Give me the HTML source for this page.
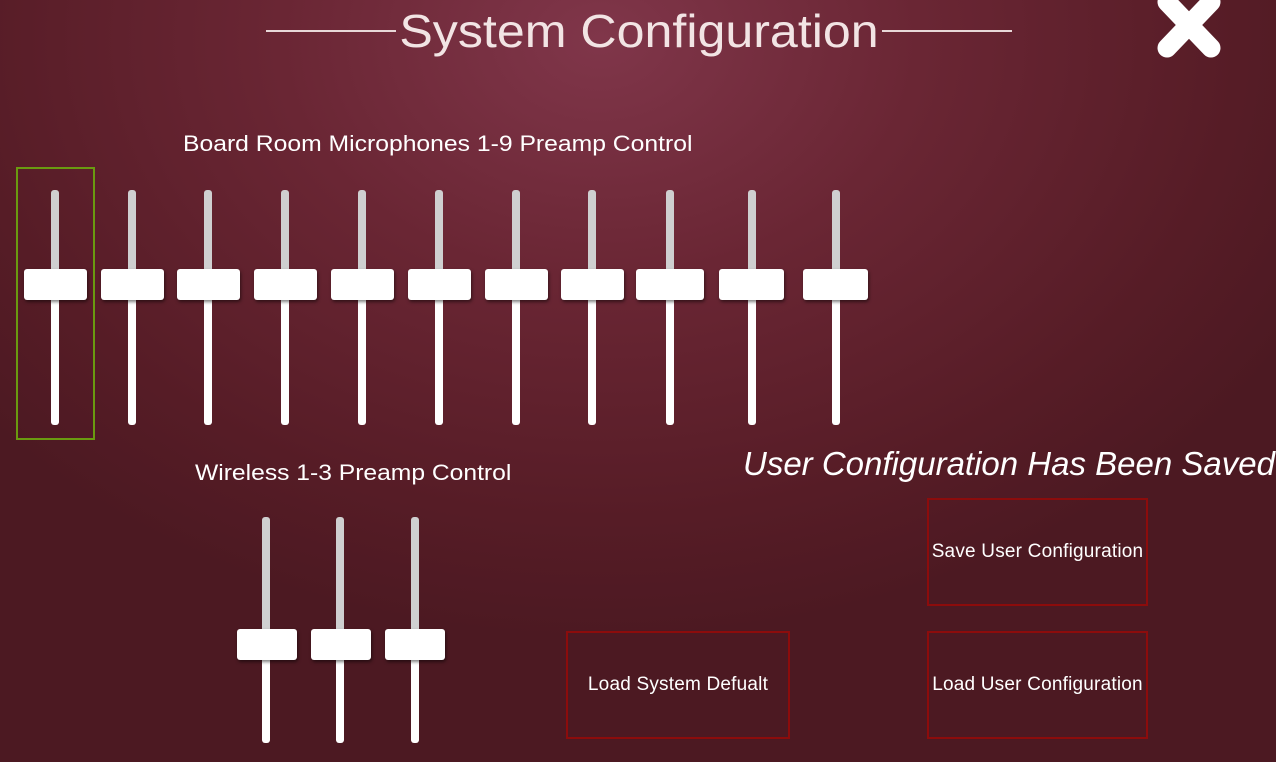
<!DOCTYPE html>
<html><head><style>
body{margin:0;width:1276px;height:762px;overflow:hidden;font-family:"Liberation Sans",sans-serif;
background:radial-gradient(ellipse 800px 600px at 600px 40px,#80364a 0%,#6a2634 40%,#561c26 80%,#4c1922 100%);position:relative;color:#fff}
.a{position:absolute;white-space:nowrap}
.tr{position:absolute;width:8px;border-radius:3px}
.k{position:absolute;height:31px;background:#fff;border-radius:3px;box-shadow:1px 2px 3px rgba(0,0,0,.5)}
.btn{position:absolute;border:2px solid #8c0c0c;box-sizing:border-box;display:flex;align-items:center;justify-content:center;font-size:19px;color:#fff;letter-spacing:0.2px}
</style></head><body>
<div class="a" style="left:266px;top:30px;width:130px;height:2px;background:#e8d8d8"></div>
<div class="a" style="left:882px;top:30px;width:130px;height:2px;background:#e8d8d8"></div>
<div class="a" style="left:396px;top:4px;width:486px;text-align:center;font-size:46px;color:#f2e4e4;transform:scaleX(1.09)">System Configuration</div>
<svg class="a" style="left:1155px;top:0" width="68" height="62"><g stroke="#fff" stroke-width="19" stroke-linecap="round"><line x1="12" y1="2" x2="56" y2="48"/><line x1="56" y1="2" x2="12" y2="48"/></g></svg>
<div class="a" style="left:183px;top:131px;font-size:22px;transform-origin:0 0;transform:scaleX(1.123)">Board Room Microphones 1-9 Preamp Control</div>
<div class="a" style="left:195px;top:460px;font-size:22px;transform-origin:0 0;transform:scaleX(1.12)">Wireless 1-3 Preamp Control</div>
<div class="a" style="left:743px;top:445px;font-size:33px;font-style:italic">User Configuration Has Been Saved.</div>
<div class="a" style="left:16px;top:167px;width:75px;height:269px;border:2px solid #6a9a10"></div>
<div id="s"></div>
<div class="btn" style="left:927px;top:498px;width:221px;height:108px">Save User Configuration</div>
<div class="btn" style="left:927px;top:631px;width:221px;height:108px">Load User Configuration</div>
<div class="btn" style="left:566px;top:631px;width:224px;height:108px">Load System Defualt</div>
<script>
var h='';
function sl(c,t,b,kt,kl,kw){h+='<div class="tr" style="left:'+(c-4)+'px;top:'+t+'px;height:'+(kt-t+5)+'px;background:#cfcfd0"></div>';
h+='<div class="tr" style="left:'+(c-4)+'px;top:'+(kt+26)+'px;height:'+(b-kt-26)+'px;background:#fff"></div>';
h+='<div class="k" style="left:'+kl+'px;top:'+kt+'px;width:'+kw+'px"></div>';}
[[55,24,63],[132,101,63],[208,177,63],[285,254,63],[362,331,63],[439,408,63],[516,485,63],[592,561,63],[670,636,68],[752,719,65],[836,803,65]].forEach(function(a){sl(a[0],190,425,269,a[1],a[2]);});
[[266,237],[340,311],[415,385]].forEach(function(a){sl(a[0],517,743,629,a[1],60);});
document.getElementById('s').innerHTML=h;
</script>
</body></html>
